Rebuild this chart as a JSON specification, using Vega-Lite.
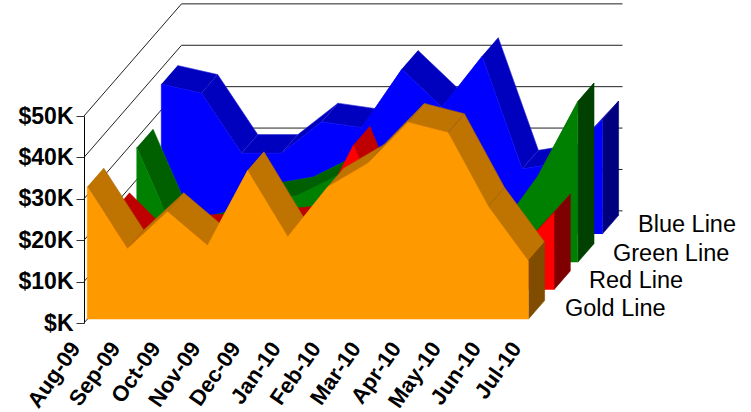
{"$schema":"https://vega.github.io/schema/vega-lite/v6.json","width":441,"height":207,"autosize":{"type":"none"},"padding":{"left":84,"top":116,"right":226,"bottom":89},"background":"white","config":{"view":{"stroke":null},"font":"Liberation Sans"},
"datasets":{"wall":[
{"g":0,"m":"Aug-09","v":0,"d":0},{"g":0,"m":"Aug-09","v":0,"d":97.5},{"g":0,"m":"Jul-10","v":0,"d":97.5},
{"g":10,"m":"Aug-09","v":10,"d":0},{"g":10,"m":"Aug-09","v":10,"d":97.5},{"g":10,"m":"Jul-10","v":10,"d":97.5},
{"g":20,"m":"Aug-09","v":20,"d":0},{"g":20,"m":"Aug-09","v":20,"d":97.5},{"g":20,"m":"Jul-10","v":20,"d":97.5},
{"g":30,"m":"Aug-09","v":30,"d":0},{"g":30,"m":"Aug-09","v":30,"d":97.5},{"g":30,"m":"Jul-10","v":30,"d":97.5},
{"g":40,"m":"Aug-09","v":40,"d":0},{"g":40,"m":"Aug-09","v":40,"d":97.5},{"g":40,"m":"Jul-10","v":40,"d":97.5},
{"g":50,"m":"Aug-09","v":50,"d":0},{"g":50,"m":"Aug-09","v":50,"d":97.5},{"g":50,"m":"Jul-10","v":50,"d":97.5}],
"names":[{"t":"Gold Line","m":"Jul-10","v":0,"d":40},{"t":"Red Line","m":"Jul-10","v":0,"d":64},{"t":"Green Line","m":"Jul-10","v":0,"d":88},{"t":"Blue Line","m":"Jul-10","v":0,"d":113}],
"poly":[
{"p":"B1","f":"Blue top","m":"Aug-09","v":36.2,"d":77.3},{"p":"B1","f":"Blue top","m":"Sep-09","v":34,"d":77.3},{"p":"B1","f":"Blue top","m":"Sep-09","v":34,"d":93.6},{"p":"B1","f":"Blue top","m":"Aug-09","v":36.2,"d":93.6},
{"p":"B2","f":"Blue top","m":"Sep-09","v":34,"d":77.3},{"p":"B2","f":"Blue top","m":"Oct-09","v":19.5,"d":77.3},{"p":"B2","f":"Blue top","m":"Oct-09","v":19.5,"d":93.6},{"p":"B2","f":"Blue top","m":"Sep-09","v":34,"d":93.6},
{"p":"B3","f":"Blue top","m":"Oct-09","v":19.5,"d":77.3},{"p":"B3","f":"Blue top","m":"Nov-09","v":19.5,"d":77.3},{"p":"B3","f":"Blue top","m":"Nov-09","v":19.5,"d":93.6},{"p":"B3","f":"Blue top","m":"Oct-09","v":19.5,"d":93.6},
{"p":"B4","f":"Blue top","m":"Nov-09","v":19.5,"d":77.3},{"p":"B4","f":"Blue top","m":"Dec-09","v":27.1,"d":77.3},{"p":"B4","f":"Blue top","m":"Dec-09","v":27.1,"d":93.6},{"p":"B4","f":"Blue top","m":"Nov-09","v":19.5,"d":93.6},
{"p":"B5","f":"Blue top","m":"Dec-09","v":27.1,"d":77.3},{"p":"B5","f":"Blue top","m":"Jan-10","v":25.7,"d":77.3},{"p":"B5","f":"Blue top","m":"Jan-10","v":25.7,"d":93.6},{"p":"B5","f":"Blue top","m":"Dec-09","v":27.1,"d":93.6},
{"p":"B6","f":"Blue top","m":"Jan-10","v":25.7,"d":77.3},{"p":"B6","f":"Blue top","m":"Feb-10","v":39.8,"d":77.3},{"p":"B6","f":"Blue top","m":"Feb-10","v":39.8,"d":93.6},{"p":"B6","f":"Blue top","m":"Jan-10","v":25.7,"d":93.6},
{"p":"B7","f":"Blue top","m":"Feb-10","v":39.8,"d":77.3},{"p":"B7","f":"Blue top","m":"Mar-10","v":30.6,"d":77.3},{"p":"B7","f":"Blue top","m":"Mar-10","v":30.6,"d":93.6},{"p":"B7","f":"Blue top","m":"Feb-10","v":39.8,"d":93.6},
{"p":"B8","f":"Blue top","m":"Mar-10","v":30.6,"d":77.3},{"p":"B8","f":"Blue top","m":"Apr-10","v":42.9,"d":77.3},{"p":"B8","f":"Blue top","m":"Apr-10","v":42.9,"d":93.6},{"p":"B8","f":"Blue top","m":"Mar-10","v":30.6,"d":93.6},
{"p":"B9","f":"Blue top","m":"Apr-10","v":42.9,"d":77.3},{"p":"B9","f":"Blue top","m":"May-10","v":15.7,"d":77.3},{"p":"B9","f":"Blue top","m":"May-10","v":15.7,"d":93.6},{"p":"B9","f":"Blue top","m":"Apr-10","v":42.9,"d":93.6},
{"p":"B10","f":"Blue top","m":"May-10","v":15.7,"d":77.3},{"p":"B10","f":"Blue top","m":"Jun-10","v":17.3,"d":77.3},{"p":"B10","f":"Blue top","m":"Jun-10","v":17.3,"d":93.6},{"p":"B10","f":"Blue top","m":"May-10","v":15.7,"d":93.6},
{"p":"B11","f":"Blue top","m":"Jun-10","v":17.3,"d":77.3},{"p":"B11","f":"Blue top","m":"Jul-10","v":27.6,"d":77.3},{"p":"B11","f":"Blue top","m":"Jul-10","v":27.6,"d":93.6},{"p":"B11","f":"Blue top","m":"Jun-10","v":17.3,"d":93.6},
{"p":"BE","f":"Blue end","m":"Jul-10","v":27.6,"d":77.3},{"p":"BE","f":"Blue end","m":"Jul-10","v":27.6,"d":93.6},{"p":"BE","f":"Blue end","m":"Jul-10","v":0,"d":93.6},{"p":"BE","f":"Blue end","m":"Jul-10","v":0,"d":77.3},
{"p":"BF","f":"Blue front","m":"Aug-09","v":0,"d":77.3},{"p":"BF","f":"Blue front","m":"Aug-09","v":36.2,"d":77.3},{"p":"BF","f":"Blue front","m":"Sep-09","v":34,"d":77.3},{"p":"BF","f":"Blue front","m":"Oct-09","v":19.5,"d":77.3},{"p":"BF","f":"Blue front","m":"Nov-09","v":19.5,"d":77.3},{"p":"BF","f":"Blue front","m":"Dec-09","v":27.1,"d":77.3},{"p":"BF","f":"Blue front","m":"Jan-10","v":25.7,"d":77.3},{"p":"BF","f":"Blue front","m":"Feb-10","v":39.8,"d":77.3},{"p":"BF","f":"Blue front","m":"Mar-10","v":30.6,"d":77.3},{"p":"BF","f":"Blue front","m":"Apr-10","v":42.9,"d":77.3},{"p":"BF","f":"Blue front","m":"May-10","v":15.7,"d":77.3},{"p":"BF","f":"Blue front","m":"Jun-10","v":17.3,"d":77.3},{"p":"BF","f":"Blue front","m":"Jul-10","v":27.6,"d":77.3},{"p":"BF","f":"Blue front","m":"Jul-10","v":0,"d":77.3},
{"p":"G1","f":"Green top","m":"Aug-09","v":27.7,"d":52.8},{"p":"G1","f":"Green top","m":"Sep-09","v":5.6,"d":52.8},{"p":"G1","f":"Green top","m":"Sep-09","v":5.6,"d":69},{"p":"G1","f":"Green top","m":"Aug-09","v":27.7,"d":69},
{"p":"G2","f":"Green top","m":"Sep-09","v":5.6,"d":52.8},{"p":"G2","f":"Green top","m":"Oct-09","v":8.1,"d":52.8},{"p":"G2","f":"Green top","m":"Oct-09","v":8.1,"d":69},{"p":"G2","f":"Green top","m":"Sep-09","v":5.6,"d":69},
{"p":"G3","f":"Green top","m":"Oct-09","v":8.1,"d":52.8},{"p":"G3","f":"Green top","m":"Nov-09","v":14.4,"d":52.8},{"p":"G3","f":"Green top","m":"Nov-09","v":14.4,"d":69},{"p":"G3","f":"Green top","m":"Oct-09","v":8.1,"d":69},
{"p":"G4","f":"Green top","m":"Nov-09","v":14.4,"d":52.8},{"p":"G4","f":"Green top","m":"Dec-09","v":16.1,"d":52.8},{"p":"G4","f":"Green top","m":"Dec-09","v":16.1,"d":69},{"p":"G4","f":"Green top","m":"Nov-09","v":14.4,"d":69},
{"p":"G5","f":"Green top","m":"Dec-09","v":16.1,"d":52.8},{"p":"G5","f":"Green top","m":"Jan-10","v":20.9,"d":52.8},{"p":"G5","f":"Green top","m":"Jan-10","v":20.9,"d":69},{"p":"G5","f":"Green top","m":"Dec-09","v":16.1,"d":69},
{"p":"G6","f":"Green top","m":"Jan-10","v":20.9,"d":52.8},{"p":"G6","f":"Green top","m":"Feb-10","v":24,"d":52.8},{"p":"G6","f":"Green top","m":"Feb-10","v":24,"d":69},{"p":"G6","f":"Green top","m":"Jan-10","v":20.9,"d":69},
{"p":"G7","f":"Green top","m":"Feb-10","v":24,"d":52.8},{"p":"G7","f":"Green top","m":"Mar-10","v":26,"d":52.8},{"p":"G7","f":"Green top","m":"Mar-10","v":26,"d":69},{"p":"G7","f":"Green top","m":"Feb-10","v":24,"d":69},
{"p":"G8","f":"Green top","m":"Mar-10","v":26,"d":52.8},{"p":"G8","f":"Green top","m":"Apr-10","v":25,"d":52.8},{"p":"G8","f":"Green top","m":"Apr-10","v":25,"d":69},{"p":"G8","f":"Green top","m":"Mar-10","v":26,"d":69},
{"p":"G9","f":"Green top","m":"Apr-10","v":25,"d":52.8},{"p":"G9","f":"Green top","m":"May-10","v":7.4,"d":52.8},{"p":"G9","f":"Green top","m":"May-10","v":7.4,"d":69},{"p":"G9","f":"Green top","m":"Apr-10","v":25,"d":69},
{"p":"G10","f":"Green top","m":"May-10","v":7.4,"d":52.8},{"p":"G10","f":"Green top","m":"Jun-10","v":20.7,"d":52.8},{"p":"G10","f":"Green top","m":"Jun-10","v":20.7,"d":69},{"p":"G10","f":"Green top","m":"May-10","v":7.4,"d":69},
{"p":"G11","f":"Green top","m":"Jun-10","v":20.7,"d":52.8},{"p":"G11","f":"Green top","m":"Jul-10","v":38.8,"d":52.8},{"p":"G11","f":"Green top","m":"Jul-10","v":38.8,"d":69},{"p":"G11","f":"Green top","m":"Jun-10","v":20.7,"d":69},
{"p":"GE","f":"Green end","m":"Jul-10","v":38.8,"d":52.8},{"p":"GE","f":"Green end","m":"Jul-10","v":38.8,"d":69},{"p":"GE","f":"Green end","m":"Jul-10","v":0,"d":69},{"p":"GE","f":"Green end","m":"Jul-10","v":0,"d":52.8},
{"p":"GF","f":"Green front","m":"Aug-09","v":0,"d":52.8},{"p":"GF","f":"Green front","m":"Aug-09","v":27.7,"d":52.8},{"p":"GF","f":"Green front","m":"Sep-09","v":5.6,"d":52.8},{"p":"GF","f":"Green front","m":"Oct-09","v":8.1,"d":52.8},{"p":"GF","f":"Green front","m":"Nov-09","v":14.4,"d":52.8},{"p":"GF","f":"Green front","m":"Dec-09","v":16.1,"d":52.8},{"p":"GF","f":"Green front","m":"Jan-10","v":20.9,"d":52.8},{"p":"GF","f":"Green front","m":"Feb-10","v":24,"d":52.8},{"p":"GF","f":"Green front","m":"Mar-10","v":26,"d":52.8},{"p":"GF","f":"Green front","m":"Apr-10","v":25,"d":52.8},{"p":"GF","f":"Green front","m":"May-10","v":7.4,"d":52.8},{"p":"GF","f":"Green front","m":"Jun-10","v":20.7,"d":52.8},{"p":"GF","f":"Green front","m":"Jul-10","v":38.8,"d":52.8},{"p":"GF","f":"Green front","m":"Jul-10","v":0,"d":52.8},
{"p":"R1","f":"Red top","m":"Aug-09","v":18.9,"d":29},{"p":"R1","f":"Red top","m":"Sep-09","v":9.2,"d":29},{"p":"R1","f":"Red top","m":"Sep-09","v":9.2,"d":45.3},{"p":"R1","f":"Red top","m":"Aug-09","v":18.9,"d":45.3},
{"p":"R2","f":"Red top","m":"Sep-09","v":9.2,"d":29},{"p":"R2","f":"Red top","m":"Oct-09","v":13.5,"d":29},{"p":"R2","f":"Red top","m":"Oct-09","v":13.5,"d":45.3},{"p":"R2","f":"Red top","m":"Sep-09","v":9.2,"d":45.3},
{"p":"R3","f":"Red top","m":"Oct-09","v":13.5,"d":29},{"p":"R3","f":"Red top","m":"Nov-09","v":14,"d":29},{"p":"R3","f":"Red top","m":"Nov-09","v":14,"d":45.3},{"p":"R3","f":"Red top","m":"Oct-09","v":13.5,"d":45.3},
{"p":"R4","f":"Red top","m":"Nov-09","v":14,"d":29},{"p":"R4","f":"Red top","m":"Dec-09","v":15,"d":29},{"p":"R4","f":"Red top","m":"Dec-09","v":15,"d":45.3},{"p":"R4","f":"Red top","m":"Nov-09","v":14,"d":45.3},
{"p":"R5","f":"Red top","m":"Dec-09","v":15,"d":29},{"p":"R5","f":"Red top","m":"Jan-10","v":16,"d":29},{"p":"R5","f":"Red top","m":"Jan-10","v":16,"d":45.3},{"p":"R5","f":"Red top","m":"Dec-09","v":15,"d":45.3},
{"p":"R6","f":"Red top","m":"Jan-10","v":16,"d":29},{"p":"R6","f":"Red top","m":"Feb-10","v":34.9,"d":29},{"p":"R6","f":"Red top","m":"Feb-10","v":34.9,"d":45.3},{"p":"R6","f":"Red top","m":"Jan-10","v":16,"d":45.3},
{"p":"R7","f":"Red top","m":"Feb-10","v":34.9,"d":29},{"p":"R7","f":"Red top","m":"Mar-10","v":11.5,"d":29},{"p":"R7","f":"Red top","m":"Mar-10","v":11.5,"d":45.3},{"p":"R7","f":"Red top","m":"Feb-10","v":34.9,"d":45.3},
{"p":"R8","f":"Red top","m":"Mar-10","v":11.5,"d":29},{"p":"R8","f":"Red top","m":"Apr-10","v":11,"d":29},{"p":"R8","f":"Red top","m":"Apr-10","v":11,"d":45.3},{"p":"R8","f":"Red top","m":"Mar-10","v":11.5,"d":45.3},
{"p":"R9","f":"Red top","m":"Apr-10","v":11,"d":29},{"p":"R9","f":"Red top","m":"May-10","v":9,"d":29},{"p":"R9","f":"Red top","m":"May-10","v":9,"d":45.3},{"p":"R9","f":"Red top","m":"Apr-10","v":11,"d":45.3},
{"p":"R10","f":"Red top","m":"May-10","v":9,"d":29},{"p":"R10","f":"Red top","m":"Jun-10","v":8,"d":29},{"p":"R10","f":"Red top","m":"Jun-10","v":8,"d":45.3},{"p":"R10","f":"Red top","m":"May-10","v":9,"d":45.3},
{"p":"R11","f":"Red top","m":"Jun-10","v":8,"d":29},{"p":"R11","f":"Red top","m":"Jul-10","v":18.5,"d":29},{"p":"R11","f":"Red top","m":"Jul-10","v":18.5,"d":45.3},{"p":"R11","f":"Red top","m":"Jun-10","v":8,"d":45.3},
{"p":"RE","f":"Red end","m":"Jul-10","v":18.5,"d":29},{"p":"RE","f":"Red end","m":"Jul-10","v":18.5,"d":45.3},{"p":"RE","f":"Red end","m":"Jul-10","v":0,"d":45.3},{"p":"RE","f":"Red end","m":"Jul-10","v":0,"d":29},
{"p":"RF","f":"Red front","m":"Aug-09","v":0,"d":29},{"p":"RF","f":"Red front","m":"Aug-09","v":18.9,"d":29},{"p":"RF","f":"Red front","m":"Sep-09","v":9.2,"d":29},{"p":"RF","f":"Red front","m":"Oct-09","v":13.5,"d":29},{"p":"RF","f":"Red front","m":"Nov-09","v":14,"d":29},{"p":"RF","f":"Red front","m":"Dec-09","v":15,"d":29},{"p":"RF","f":"Red front","m":"Jan-10","v":16,"d":29},{"p":"RF","f":"Red front","m":"Feb-10","v":34.9,"d":29},{"p":"RF","f":"Red front","m":"Mar-10","v":11.5,"d":29},{"p":"RF","f":"Red front","m":"Apr-10","v":11,"d":29},{"p":"RF","f":"Red front","m":"May-10","v":9,"d":29},{"p":"RF","f":"Red front","m":"Jun-10","v":8,"d":29},{"p":"RF","f":"Red front","m":"Jul-10","v":18.5,"d":29},{"p":"RF","f":"Red front","m":"Jul-10","v":0,"d":29},
{"p":"O1","f":"Gold top","m":"Aug-09","v":32,"d":3.3},{"p":"O1","f":"Gold top","m":"Sep-09","v":17,"d":3.3},{"p":"O1","f":"Gold top","m":"Sep-09","v":17,"d":19.6},{"p":"O1","f":"Gold top","m":"Aug-09","v":32,"d":19.6},
{"p":"O2","f":"Gold top","m":"Sep-09","v":17,"d":3.3},{"p":"O2","f":"Gold top","m":"Oct-09","v":26,"d":3.3},{"p":"O2","f":"Gold top","m":"Oct-09","v":26,"d":19.6},{"p":"O2","f":"Gold top","m":"Sep-09","v":17,"d":19.6},
{"p":"O3","f":"Gold top","m":"Oct-09","v":26,"d":3.3},{"p":"O3","f":"Gold top","m":"Nov-09","v":17.8,"d":3.3},{"p":"O3","f":"Gold top","m":"Nov-09","v":17.8,"d":19.6},{"p":"O3","f":"Gold top","m":"Oct-09","v":26,"d":19.6},
{"p":"O4","f":"Gold top","m":"Nov-09","v":17.8,"d":3.3},{"p":"O4","f":"Gold top","m":"Dec-09","v":35.9,"d":3.3},{"p":"O4","f":"Gold top","m":"Dec-09","v":35.9,"d":19.6},{"p":"O4","f":"Gold top","m":"Nov-09","v":17.8,"d":19.6},
{"p":"O5","f":"Gold top","m":"Dec-09","v":35.9,"d":3.3},{"p":"O5","f":"Gold top","m":"Jan-10","v":19.9,"d":3.3},{"p":"O5","f":"Gold top","m":"Jan-10","v":19.9,"d":19.6},{"p":"O5","f":"Gold top","m":"Dec-09","v":35.9,"d":19.6},
{"p":"O6","f":"Gold top","m":"Jan-10","v":19.9,"d":3.3},{"p":"O6","f":"Gold top","m":"Feb-10","v":32,"d":3.3},{"p":"O6","f":"Gold top","m":"Feb-10","v":32,"d":19.6},{"p":"O6","f":"Gold top","m":"Jan-10","v":19.9,"d":19.6},
{"p":"O7","f":"Gold top","m":"Feb-10","v":32,"d":3.3},{"p":"O7","f":"Gold top","m":"Mar-10","v":37.7,"d":3.3},{"p":"O7","f":"Gold top","m":"Mar-10","v":37.7,"d":19.6},{"p":"O7","f":"Gold top","m":"Feb-10","v":32,"d":19.6},
{"p":"O8","f":"Gold top","m":"Mar-10","v":37.7,"d":3.3},{"p":"O8","f":"Gold top","m":"Apr-10","v":47.6,"d":3.3},{"p":"O8","f":"Gold top","m":"Apr-10","v":47.6,"d":19.6},{"p":"O8","f":"Gold top","m":"Mar-10","v":37.7,"d":19.6},
{"p":"O9","f":"Gold top","m":"Apr-10","v":47.6,"d":3.3},{"p":"O9","f":"Gold top","m":"May-10","v":45.1,"d":3.3},{"p":"O9","f":"Gold top","m":"May-10","v":45.1,"d":19.6},{"p":"O9","f":"Gold top","m":"Apr-10","v":47.6,"d":19.6},
{"p":"O10","f":"Gold top","m":"May-10","v":45.1,"d":3.3},{"p":"O10","f":"Gold top","m":"Jun-10","v":27.3,"d":3.3},{"p":"O10","f":"Gold top","m":"Jun-10","v":27.3,"d":19.6},{"p":"O10","f":"Gold top","m":"May-10","v":45.1,"d":19.6},
{"p":"O11","f":"Gold top","m":"Jun-10","v":27.3,"d":3.3},{"p":"O11","f":"Gold top","m":"Jul-10","v":14.1,"d":3.3},{"p":"O11","f":"Gold top","m":"Jul-10","v":14.1,"d":19.6},{"p":"O11","f":"Gold top","m":"Jun-10","v":27.3,"d":19.6},
{"p":"OE","f":"Gold end","m":"Jul-10","v":14.1,"d":3.3},{"p":"OE","f":"Gold end","m":"Jul-10","v":14.1,"d":19.6},{"p":"OE","f":"Gold end","m":"Jul-10","v":0,"d":19.6},{"p":"OE","f":"Gold end","m":"Jul-10","v":0,"d":3.3},
{"p":"OF","f":"Gold front","m":"Aug-09","v":0,"d":3.3},{"p":"OF","f":"Gold front","m":"Aug-09","v":32,"d":3.3},{"p":"OF","f":"Gold front","m":"Sep-09","v":17,"d":3.3},{"p":"OF","f":"Gold front","m":"Oct-09","v":26,"d":3.3},{"p":"OF","f":"Gold front","m":"Nov-09","v":17.8,"d":3.3},{"p":"OF","f":"Gold front","m":"Dec-09","v":35.9,"d":3.3},{"p":"OF","f":"Gold front","m":"Jan-10","v":19.9,"d":3.3},{"p":"OF","f":"Gold front","m":"Feb-10","v":32,"d":3.3},{"p":"OF","f":"Gold front","m":"Mar-10","v":37.7,"d":3.3},{"p":"OF","f":"Gold front","m":"Apr-10","v":47.6,"d":3.3},{"p":"OF","f":"Gold front","m":"May-10","v":45.1,"d":3.3},{"p":"OF","f":"Gold front","m":"Jun-10","v":27.3,"d":3.3},{"p":"OF","f":"Gold front","m":"Jul-10","v":14.1,"d":3.3},{"p":"OF","f":"Gold front","m":"Jul-10","v":0,"d":3.3}
]},
"encoding":{
"x":{"field":"m","type":"ordinal","title":null,"scale":{"type":"point","padding":0,"domain":["Aug-09","Sep-09","Oct-09","Nov-09","Dec-09","Jan-10","Feb-10","Mar-10","Apr-10","May-10","Jun-10","Jul-10"]},"axis":{"domain":false,"ticks":false,"grid":false,"labelAngle":-55,"labelAlign":"right","labelBaseline":"middle","labelFont":"Liberation Sans","labelFontWeight":"bold","labelFontSize":22,"labelColor":"black","labelPadding":21,"labelOffset":-9,"labelOverlap":false}},
"y":{"field":"h","type":"quantitative","title":null,"scale":{"domain":[0,50],"nice":false},"axis":{"values":[0,10,20,30,40,50],"labelExpr":"datum.value==0?'$K':'$'+datum.value+'K'","grid":false,"domainColor":"black","tickColor":"#333333","tickSize":8,"labelFont":"Liberation Sans","labelFontWeight":"bold","labelFontSize":23,"labelColor":"black","labelPadding":3}},
"xOffset":{"field":"d","type":"quantitative","scale":{"domain":[0,100],"range":[0,100]}}
},
"layer":[
{"data":{"name":"wall"},"transform":[{"calculate":"datum.v+datum.d*0.2778","as":"h"}],"mark":{"type":"line","stroke":"#222222","strokeWidth":1,"clip":false},"encoding":{"detail":{"field":"g"},"order":{"value":null}}},
{"data":{"name":"poly"},"transform":[{"calculate":"datum.v+datum.d*0.2778","as":"h"}],"mark":{"type":"line","strokeWidth":0.6,"clip":false},"encoding":{"detail":{"field":"p"},"order":{"value":null},
"fill":{"field":"f","type":"nominal","legend":null,"scale":{"domain":["Blue top","Blue front","Blue end","Green top","Green front","Green end","Red top","Red front","Red end","Gold top","Gold front","Gold end"],"range":["#0000BF","#0000FF","#00007F","#006000","#008000","#004000","#BF0000","#FF0000","#7F0000","#BF7300","#FF9900","#7F4C00"]}},
"stroke":{"field":"f","type":"nominal","legend":null,"scale":{"domain":["Blue top","Blue front","Blue end","Green top","Green front","Green end","Red top","Red front","Red end","Gold top","Gold front","Gold end"],"range":["#2A2AD8","#0000FF","#00007F","#0A7A0A","#008000","#004000","#BF0000","#FF0000","#7F0000","#A86400","#FF9900","#7F4C00"]}}}},
{"data":{"name":"names"},"transform":[{"calculate":"datum.v+datum.d*0.2778","as":"h"}],"mark":{"type":"text","align":"left","baseline":"middle","dy":32,"font":"Liberation Sans","fontSize":23.5,"color":"black"},"encoding":{"text":{"field":"t"}}}
]}
